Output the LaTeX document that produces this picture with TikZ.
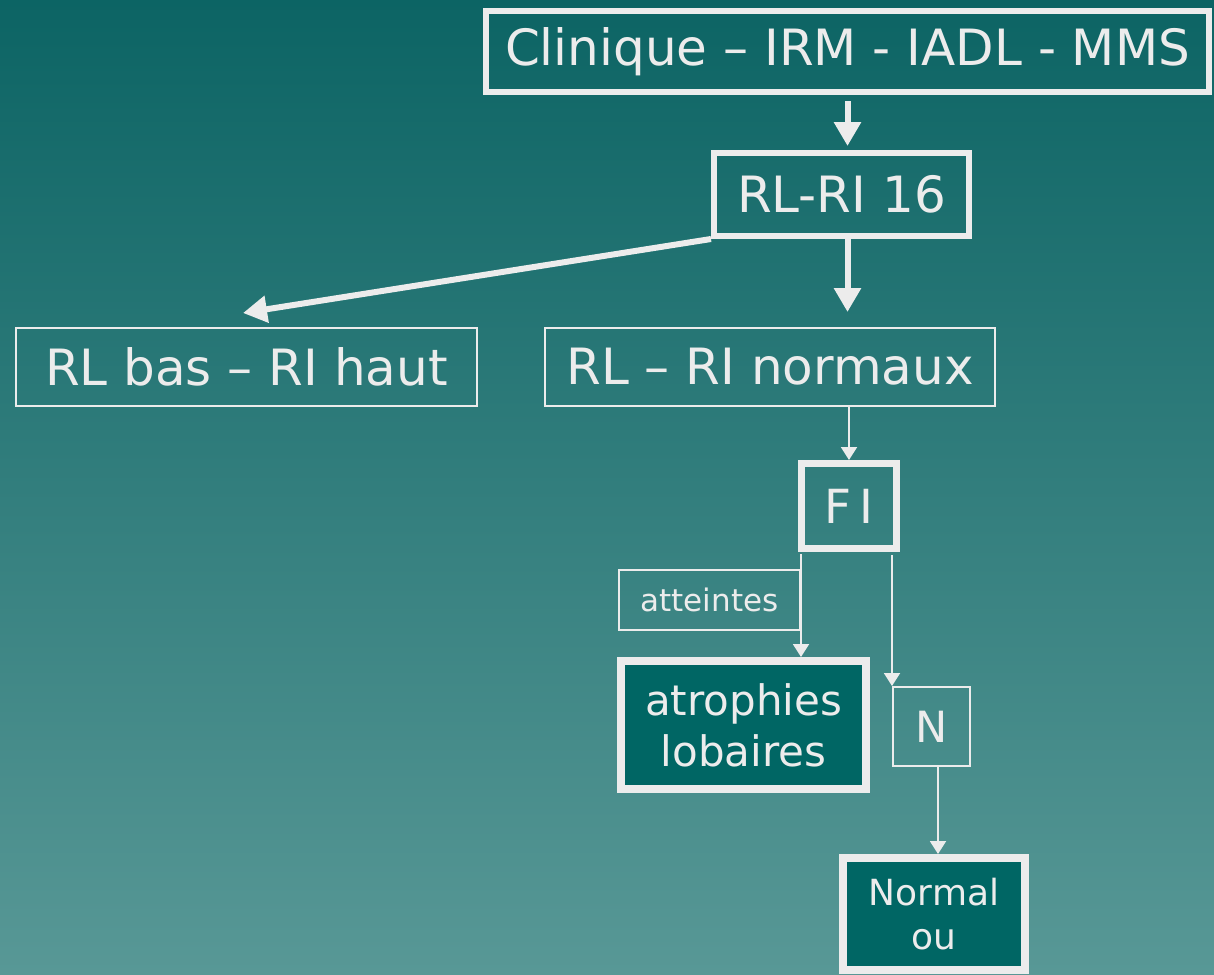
\documentclass[tikz,border=0pt]{standalone}
\usepackage{fontspec}
\setmainfont{DejaVu Sans}
\usetikzlibrary{arrows.meta}
\definecolor{bgtop}{RGB}{12,100,100}
\definecolor{bgbottom}{RGB}{88,152,150}
\definecolor{ink}{RGB}{236,236,236}
\definecolor{boxfill}{RGB}{0,102,100}
\tikzset{
  box/.style={draw=ink, text=ink, inner sep=0pt, align=center,
    font=\fontsize{50}{60}\selectfont},
  thickbox/.style={box, line width=6pt},
  thinbox/.style={box, line width=2pt},
  filledbox/.style={box, line width=8pt, fill=boxfill},
  bigarrow/.style={draw=ink, line width=6pt,
    -{Triangle[width=26pt,length=24pt]}},
  smallarrow/.style={draw=ink, line width=2pt,
    -{Triangle[width=16pt,length=13pt]}},
}
\begin{document}
\begin{tikzpicture}[x=1pt,y=-1pt]
\useasboundingbox (0,0) rectangle (1214,974);
\clip (0,0) rectangle (1214,974);
\shade[top color=bgtop, bottom color=bgbottom] (0,0) rectangle (1214,974);

% boxes
\node[thickbox, minimum width=723pt, minimum height=81pt] (clin) at (847.5,51.5) {Clinique – IRM - IADL - MMS};
\node[thickbox, minimum width=255pt, minimum height=83pt] (rl16) at (841.5,194.5) {RL-RI 16};
\node[thinbox, minimum width=461pt, minimum height=78pt] (bas) at (246.5,367) {RL bas – RI haut};
\node[thinbox, minimum width=450pt, minimum height=78pt] (norm) at (770,367) {RL – RI normaux};
\node[box, line width=7pt, minimum width=95pt, minimum height=85pt,
  font=\fontsize{47}{56}\selectfont] (fi) at (849,506) {F\,I};
\node[thinbox, minimum width=181pt, minimum height=60pt,
  font=\fontsize{31}{37}\selectfont] (att) at (709.5,600) {atteintes};
\node[filledbox, minimum width=245pt, minimum height=128pt,
  font=\fontsize{42}{51}\selectfont] (atr) at (743.5,725) {atrophies\\lobaires};
\node[thinbox, minimum width=77pt, minimum height=79pt,
  font=\fontsize{43}{52}\selectfont] (n) at (931.5,726.5) {N};
\node[filledbox, minimum width=182pt, minimum height=112pt,
  font=\fontsize{36}{44}\selectfont] (nor) at (934,914) {Normal\\ou};

\coordinate (bastip) at (243,313);

% connectors
\draw[bigarrow, shorten <=6pt, shorten >=4pt] (clin.south) -- (clin.south |- rl16.north);
\draw[bigarrow, shorten >=15pt] (rl16.south -| clin.south) -- (clin.south |- norm.north);
\draw[bigarrow] (rl16.south west) -- (bastip);
\draw[smallarrow] (norm.south -| fi.north) -- (fi.north);
\draw[smallarrow, shorten <=2pt] (fi.south -| att.east) -- (att.east |- atr.north);
\draw[smallarrow, shorten <=3pt] (fi.south -| n.north west) -- (n.north west);
\draw[smallarrow] (n.south -| 938,0) -- (nor.north -| 938,0);
\end{tikzpicture}
\end{document}
